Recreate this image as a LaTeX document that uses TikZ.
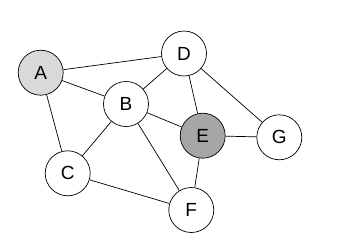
\documentclass[tikz,border=0pt]{standalone}
\usepackage{fontspec}
\setmainfont{Liberation Sans}
\begin{document}
\begin{tikzpicture}[x=1pt,y=-1pt,
  vertex/.style={circle,draw=black,line width=0.7pt,minimum size=45pt,inner sep=0pt,fill=white,font=\fontsize{19}{19}\selectfont},
  edge/.style={line width=0.7pt}]
\useasboundingbox (0,0) rectangle (341,242);
\node[vertex,fill=black!15] (A) at (40.7,72.7) {A};
\node[vertex] (D) at (184,53.5) {D};
\node[vertex] (B) at (126,104) {B};
\node[vertex,fill=black!35] (E) at (202.7,135.7) {E};
\node[vertex] (G) at (279.3,137.3) {G};
\node[vertex] (C) at (67.7,173.3) {C};
\node[vertex] (F) at (191.3,210) {F};
\draw[edge] (A) -- (D);
\draw[edge] (A) -- (B);
\draw[edge] (A) -- (C);
\draw[edge] (D) -- (B);
\draw[edge] (D) -- (E);
\draw[edge] (D) -- (G);
\draw[edge] (B) -- (E);
\draw[edge] (B) -- (C);
\draw[edge] (B) -- (F);
\draw[edge] (E) -- (G);
\draw[edge] (E) -- (F);
\draw[edge] (C) -- (F);
\end{tikzpicture}
\end{document}
